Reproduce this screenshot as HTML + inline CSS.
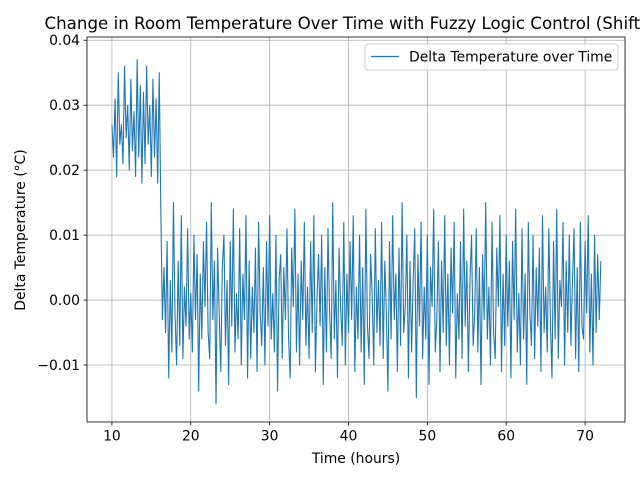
<!DOCTYPE html>
<html><head><meta charset="utf-8"><style>
html,body{margin:0;padding:0;background:#fff;}
svg{display:block;font-family:"DejaVu Sans","Liberation Sans",sans-serif;}
</style></head><body>
<svg id="chart" width="640" height="480" viewBox="0 0 640 480">
<rect x="0" y="0" width="640" height="480" fill="#fff"/>
<g id="grid"></g>
<g id="series"></g>
<rect x="87" y="37" width="538" height="385" fill="none" stroke="#000" stroke-width="0.8"/>
<g id="ticks"></g>
<text x="356" y="29" font-size="16.67" text-anchor="middle">Change in Room Temperature Over Time with Fuzzy Logic Control (Shifted)</text>
<text x="356" y="463" font-size="13.9" text-anchor="middle">Time (hours)</text>
<text x="25" y="230" font-size="13.9" text-anchor="middle" transform="rotate(-90 25 230)">Delta Temperature (°C)</text>
<g>
<rect x="365" y="44" width="253" height="26" rx="3" fill="#fff" fill-opacity="0.8" stroke="#ccc" stroke-width="1"/>
<line x1="371" y1="56.5" x2="399" y2="56.5" stroke="#1f77b4" stroke-width="1.2"/>
<text x="409" y="61.5" font-size="13.9">Delta Temperature over Time</text>
</g>
</svg>
<script>
const xTicks=[10,20,30,40,50,60,70];
const yTicks=[-0.01,0.00,0.01,0.02,0.03,0.04];
const yTickLabels=["\u22120.01","0.00","0.01","0.02","0.03","0.04"];
const startTimes=[10.0,16.2];
const stepHours=0.2;
const highPhaseMilli=[27,22,31,19,35,24,27,21,36,25,30,20,34,23,29,19,37,22,33,18,32,21,36,24,30,19,34,22,31,18,35];
const lowPhaseMilli=[14,-3,5,-5,9,-12,3,-8,15,-2,-10,6,-7,13,-9,2,-4,11,-6,1,
-8,10,-3,7,-14,4,-6,9,-1,12,-5,-9,15,-3,6,-16,8,-2,-11,5,
10,-7,3,-13,9,-4,14,-8,1,-6,11,-10,4,-3,13,-12,6,-9,2,-5,
8,-11,12,-2,-7,5,-10,9,-4,13,-6,1,-8,10,-14,3,7,-9,5,-3,
11,-6,-12,8,-1,14,-8,4,-10,6,-3,12,-7,2,-9,9,-5,13,-11,0,
7,-4,10,-13,5,-8,11,-2,-9,15,-6,3,-12,8,-1,-7,12,-10,4,-5,
9,-3,13,-11,2,-6,10,-8,5,-13,14,-4,-9,7,1,-10,11,-5,3,-7,
12,-9,6,-2,-14,9,-6,13,-3,4,-11,8,-7,15,-5,-1,10,-12,6,-8,
3,11,-15,7,-4,12,-9,2,-6,10,-13,5,-1,14,-8,-3,9,-11,6,-5,
13,-7,4,-10,8,-2,12,-12,1,-6,9,-9,14,-4,6,-11,3,10,-7,-2,
11,-8,5,-13,7,-3,15,-6,2,-10,12,-5,-9,8,-1,13,-11,4,-7,10,
-4,6,-12,9,-3,14,-8,1,-10,11,-6,4,-13,12,-2,-7,10,-9,5,-4,
8,-11,13,-5,2,-8,11,-3,-12,9,-6,14,-9,3,-1,12,-10,6,-5,10,
-7,3,11,-9,5,-11,12,-4,-6,9,-2,13,-8,4,-10,10,-5,7,-3,6];

const NS="http://www.w3.org/2000/svg";
const X0=87,X1=625,Y0=37,Y1=422;
const xMin=6.84,xMax=75.06,yMin=-0.01877,yMax=0.0405;
function sx(v){return X0+(v-xMin)/(xMax-xMin)*(X1-X0);}
function sy(v){return Y1-(v-yMin)/(yMax-yMin)*(Y1-Y0);}
function mk(tag,attrs,parent){const e=document.createElementNS(NS,tag);for(const k in attrs)e.setAttribute(k,attrs[k]);parent.appendChild(e);return e;}
const grid=document.getElementById('grid'),ticks=document.getElementById('ticks'),series=document.getElementById('series');
xTicks.forEach(t=>{const x=sx(t);
 const g=mk('line',{x1:x,x2:x,y1:Y0,y2:Y1,stroke:'#b0b0b0','stroke-width':0.8},grid);
 
 
 const tk=mk('line',{x1:x,x2:x,y1:Y1,y2:Y1+3.5,stroke:'#000','stroke-width':0.8},ticks);
 
 
 const lb=mk('text',{x:x,y:Y1+18.5,'font-size':13.9,'text-anchor':'middle'},ticks);lb.textContent=t;
 
 
});
yTicks.forEach((t,i)=>{const y=sy(t);
 const g=mk('line',{x1:X0,x2:X1,y1:y,y2:y,stroke:'#b0b0b0','stroke-width':0.8},grid);
 
 
 const tk=mk('line',{x1:X0-3.5,x2:X0,y1:y,y2:y,stroke:'#000','stroke-width':0.8},ticks);
 
 
 const lb=mk('text',{x:X0-7,y:y+5,'font-size':13.9,'text-anchor':'end'},ticks);lb.textContent=yTickLabels[i];
 
 
});
const pts=[];
highPhaseMilli.forEach((v,i)=>pts.push([startTimes[0]+i*stepHours,v/1000]));
lowPhaseMilli.forEach((v,i)=>pts.push([startTimes[1]+i*stepHours,v/1000]));
const p=mk('polyline',{points:pts.map(q=>sx(q[0]).toFixed(2)+','+sy(q[1]).toFixed(2)).join(' '),fill:'none',stroke:'#1f77b4','stroke-width':1.1,'stroke-linejoin':'round'},series);


</script>
</body></html>
